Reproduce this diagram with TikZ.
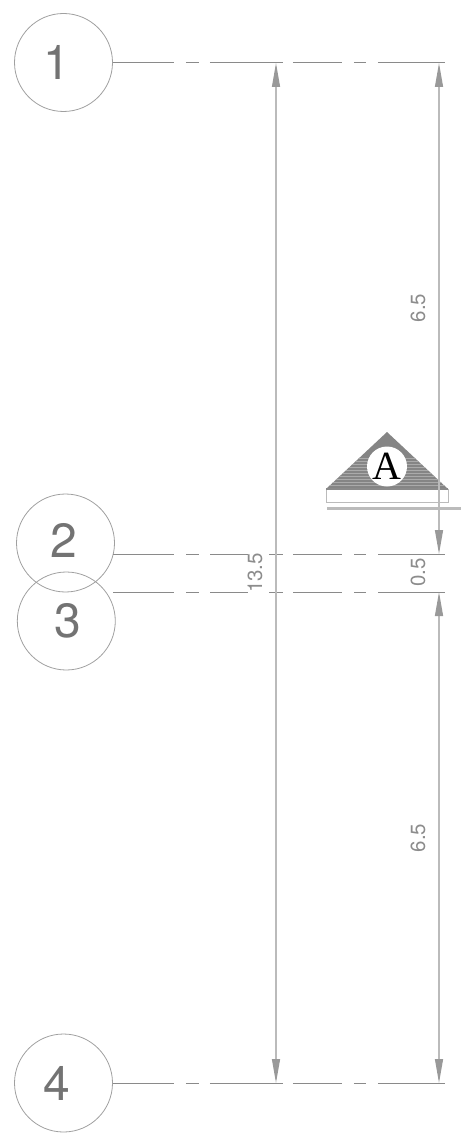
\documentclass[tikz,border=0pt]{standalone}
\usepackage{xcolor}
\usepackage{fontspec}
\setmainfont{TeX Gyre Heros}
\newfontfamily\serifletter{Liberation Serif}
\usetikzlibrary{arrows.meta}
\definecolor{circlegray}{HTML}{A0A0A0}
\definecolor{axisgray}{HTML}{8A8A8A}
\definecolor{dimgray}{HTML}{BBBBBB}
\definecolor{tipgray}{HTML}{999999}
\definecolor{markgray}{HTML}{858585}
\tikzset{
	gridcircle/.style={circle, draw=circlegray, line width=0.8pt, minimum size=98pt, inner sep=0pt},
	gridnum/.style={inner sep=0pt, text=black!55, font=\fontsize{48}{48}\selectfont},
	axisline/.style={draw=axisgray, line width=0.9pt, dash pattern=on 61pt off 12pt on 13pt off 11pt on 73pt off 10pt on 49pt off 12pt on 12pt off 12pt on 67pt},
	axisgap/.style={draw=axisgray, line width=0.9pt, dash pattern=on 61pt off 12pt on 13pt off 11pt on 38pt off 21pt on 14pt off 10pt on 49pt off 12pt on 12pt off 12pt on 67pt},
	dimboth/.style={draw=dimgray, line width=1.3pt, arrows={Triangle[length=24pt,width=8pt,color=tipgray]-Triangle[length=24pt,width=8pt,color=tipgray]}},
	dimtext/.style={rotate=90, inner sep=0pt, text=black!45, font=\fontsize{20.5}{20.5}\selectfont},
}

\begin{document}
\begin{tikzpicture}[x=1pt, y=-1pt]
	\useasboundingbox (0,0) rectangle (461,1134);
	% Axis ends
	\coordinate (l2) at (113,554);
	\coordinate (l3) at (113,592);
	\coordinate (r1) at (445,62.5);
	\coordinate (r2) at (445,554);
	\coordinate (r3) at (445,592);
	\coordinate (r4) at (445,1083);
	\coordinate (a1) at (276,63);
	\coordinate (a4) at (276,1083);
	\coordinate (b1) at (439,63);
	\coordinate (b2) at (439,554);
	\coordinate (b3) at (439,592);
	\coordinate (b4) at (439,1083);
	% Section mark
	\fill[markgray] (387,432) -- (448,489) -- (326,489) -- cycle;
	\begin{scope}
		\clip (387,432) -- (448,489) -- (326,489) -- cycle;
		\foreach \y in {458,461,...,488} {
			\draw[white!30!markgray, line width=0.8pt] (326,\y) -- (448,\y);
		}
	\end{scope}
	\draw[dimgray, line width=0.9pt, fill=white] (326,489) rectangle (448,502.5);
	\draw[axisgray, line width=1.1pt] (326,489) -- (448,489);
	\fill[dimgray] (327,506.5) rectangle (461,510);
	\node[circle, fill=white, minimum size=40pt, inner sep=0pt, font=\fontsize{40}{40}\serifletter] (mark) at (387,466.5) {A};
	% Circles
	\node[gridcircle] (c1) at (63.5,62.5) {};
	\node[gridcircle] (c2) at (65.5,543) {};
	\node[gridcircle] (c3) at (66.3,621) {};
	\node[gridcircle] (c4) at (63.5,1083) {};
	\node[gridnum] (n1) at (56.5,62.5) {1};
	\node[gridnum] (n2) at (64,540.5) {2};
	\node[gridnum] (n3) at (68,620.5) {3};
	\node[gridnum] (n4) at (57,1083) {4};
	% Axis lines
	\draw[axisline] (c1.east) -- (r1);
	\draw[axisgap] (l2) -- (r2);
	\draw[axisgap] (l3) -- (r3);
	\draw[axisline] (c4.east) -- (r4);
	% Dimension lines
	\draw[dimboth] (a1) -- (a4);
	\draw[dimboth] (b1) -- (b2);
	\draw[dimboth] (b3) -- (b4);
	% Dimension values
	\node[dimtext] (d1) at (418,308) {6.5};
	\node[dimtext] (d2) at (418,572.5) {0.5};
	\node[dimtext] (d3) at (418,838) {6.5};
	\node[dimtext] (d4) at (255,573) {13.5};
\end{tikzpicture}
\end{document}
